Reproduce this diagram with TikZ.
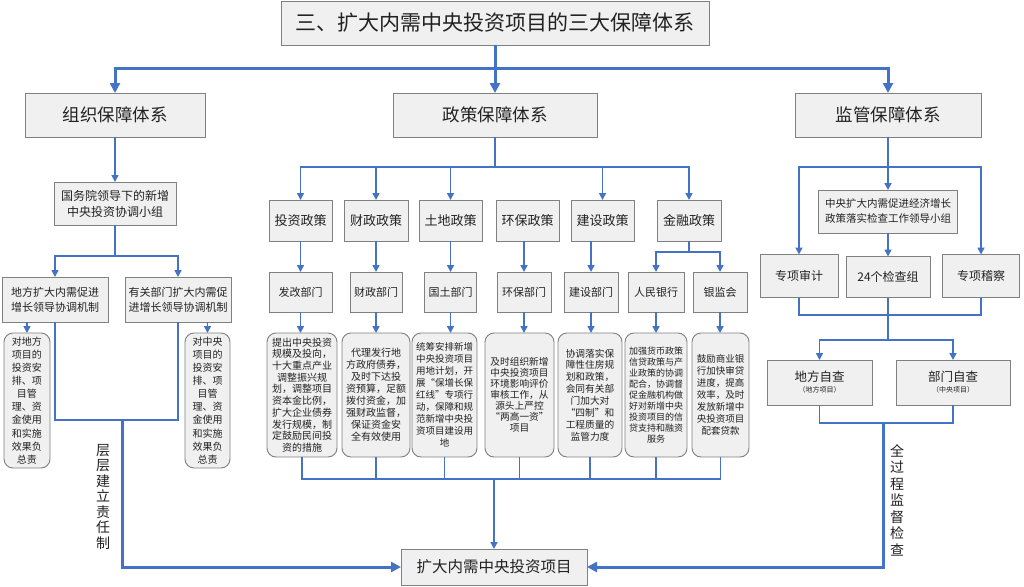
\documentclass[tikz,border=0pt]{standalone}
\usepackage{fontspec}
\setmainfont{Noto Sans CJK SC}
\usetikzlibrary{arrows.meta}
\definecolor{lnblue}{RGB}{68,114,196}
\definecolor{boxfill}{RGB}{240,240,240}
\definecolor{boxline}{RGB}{128,128,128}
\definecolor{txt}{RGB}{34,34,34}
\newcommand{\fs}[2]{\fontsize{#1}{#2}\selectfont}
\begin{document}
\begin{tikzpicture}[x=1pt,y=-1pt,
  box/.style={draw=boxline,fill=boxfill,line width=0.9pt,inner sep=0pt,outer sep=0pt,align=center,text=txt},
  rbox/.style={box,rounded corners=9pt},
  sz/.style 2 args={minimum width=#1pt,minimum height=#2pt},
  conn/.style={draw=lnblue,line width=1.6pt},
  bigc/.style={draw=lnblue,line width=3pt},
  arr/.style={-{Triangle[length=7pt,width=7pt]}},
  arrB/.style={-{Triangle[length=10pt,width=10pt]}},
  lab/.style={align=center,inner sep=0pt,text=txt,font=\fs{14}{15.5}}
]
\useasboundingbox (0,0) rectangle (1024,586);
\fill[white] (0,0) rectangle (1024,586);

% ---------- top level ----------
\node[box,sz={428}{44},font=\fs{21}{24}] (title) at (495,23) {三、扩大内需中央投资项目的三大保障体系};
\node[box,sz={180}{44},font=\fs{17.5}{20}] (org) at (115,115) {组织保障体系};
\node[box,sz={204}{44},font=\fs{17.5}{20}] (pol) at (495,115) {政策保障体系};
\node[box,sz={186}{44},font=\fs{17.5}{20}] (sup) at (888,115) {监管保障体系};

\coordinate (tb) at (495,68);
\draw[bigc] (title.south) -- (tb);
\draw[bigc,arrB] (tb) -| (org.north);
\draw[bigc,arrB] (tb) -- (pol.north);
\draw[bigc,arrB] (tb) -| (sup.north);

% ---------- left column ----------
\node[box,sz={122}{43},font=\fs{12}{16}] (gwy) at (115,203.5) {国务院领导下的新增\\中央投资协调小组};
\draw[conn,arr] (org.south) -- (gwy.north);
\node[box,sz={106}{45},font=\fs{11}{15}] (lm1) at (55,299.5) {地方扩大内需促进\\增长领导协调机制};
\node[box,sz={106}{45},font=\fs{11}{15}] (lm2) at (178,299.5) {有关部门扩大内需促\\进增长领导协调机制};
\coordinate (gb) at (115,256);
\draw[conn] (gwy.south) -- (gb);
\draw[conn,arr] (gb) -| (lm1.north);
\draw[conn,arr] (gb) -| (lm2.north);
\node[rbox,sz={46}{135},font=\fs{10}{13.1}] (s1) at (27,400.5) {对地方\\项目的\\投资安\\排、项\\目管\\理、资\\金使用\\和实施\\效果负\\总责};
\node[rbox,sz={45}{135},font=\fs{10}{13.1}] (s2) at (207.5,400.5) {对中央\\项目的\\投资安\\排、项\\目管\\理、资\\金使用\\和实施\\效果负\\总责};
\draw[conn,arr] (lm1.south -| s1.north) -- (s1.north);
\draw[conn,arr] (lm2.south -| s2.north) -- (s2.north);
\coordinate (lj) at (122,420);
\draw[conn] (lm1.south) |- (lj);
\draw[conn] (lm2.south) |- (lj);
\node[lab] (lab1) at (103,497) {层\\层\\建\\立\\责\\任\\制};

% ---------- middle column ----------
\coordinate (pb) at (495,167);
\draw[conn] (pol.south) -- (pb);
\node[box,sz={63}{41},font=\fs{13}{16}] (p1) at (300.5,220.5) {投资政策};
\node[box,sz={64}{41},font=\fs{13}{16}] (p2) at (376,220.5) {财政政策};
\node[box,sz={63}{41},font=\fs{13}{16}] (p3) at (450.5,220.5) {土地政策};
\node[box,sz={63}{41},font=\fs{13}{16}] (p4) at (527.5,220.5) {环保政策};
\node[box,sz={63}{41},font=\fs{13}{16}] (p5) at (602.5,220.5) {建设政策};
\node[box,sz={64}{41},font=\fs{13}{16}] (p6) at (689,220.5) {金融政策};
\draw[conn,arr] (pb) -| (p1.north);
\draw[conn,arr] (pb) -| (p2.north);
\draw[conn,arr] (pb) -| (p3.north);
\draw[conn,arr] (pb) -| (p5.north);
\draw[conn,arr] (pb) -| (p6.north);

\node[box,sz={63}{40},font=\fs{11}{14}] (d1) at (300.5,292) {发改部门};
\node[box,sz={52}{40},font=\fs{11}{14}] (d2) at (376,292) {财政部门};
\node[box,sz={52}{40},font=\fs{11}{14}] (d3) at (450.5,292) {国土部门};
\node[box,sz={54}{40},font=\fs{11}{14}] (d4) at (524,292) {环保部门};
\node[box,sz={54}{40},font=\fs{11}{14}] (d5) at (591,292) {建设部门};
\node[box,sz={56}{40},font=\fs{11}{14}] (d6) at (656,292) {人民银行};
\node[box,sz={54}{40},font=\fs{11}{14}] (d7) at (720,292) {银监会};
\draw[conn,arr] (p1.south) -- (p1.south |- d1.north);
\draw[conn,arr] (p2.south) -- (p2.south |- d2.north);
\draw[conn,arr] (p3.south) -- (p3.south |- d3.north);
\draw[conn,arr] (d4.north |- p4.south) -- (d4.north);
\draw[conn,arr] (d5.north |- p5.south) -- (d5.north);
\coordinate (fb) at (689,252);
\draw[conn] (p6.south) -- (fb);
\draw[conn,arr] (fb) -| (d6.north);
\draw[conn,arr] (fb) -| (d7.north);

\node[rbox,sz={70}{124},font=\fs{10}{11.7}] (t1) at (302,395) {提出中央投资\\规模及投向，\\十大重点产业\\调整振兴规\\划，调整项目\\资本金比例，\\扩大企业债券\\发行规模，制\\定鼓励民间投\\资的措施};
\node[rbox,sz={68}{124},font=\fs{10}{12}] (t2) at (376,395) {代理发行地\\方政府债券，\\及时下达投\\资预算，足额\\拨付资金，加\\强财政监督，\\保证资金安\\全有效使用};
\node[rbox,sz={65}{124},font=\fs{9.5}{12}] (t3) at (444.5,395) {统筹安排新增\\中央投资项目\\用地计划，开\\展“保增长保\\红线”专项行\\动，保障和规\\范新增中央投\\资项目建设用\\地};
\node[rbox,sz={69}{124},font=\fs{9.7}{11}] (t4) at (519.5,395) {及时组织新增\\中央投资项目\\环境影响评价\\审核工作，从\\源头上严控\\“两高一资”\\项目};
\node[rbox,sz={64}{124},font=\fs{9.7}{11.9}] (t5) at (590,395) {协调落实保\\障性住房规\\划和政策，\\会同有关部\\门加大对\\“四制”和\\工程质量的\\监管力度};
\node[rbox,sz={62}{124},font=\fs{9}{11}] (t6) at (656,395) {加强货币政策\\信贷政策与产\\业政策的协调\\配合，协调督\\促金融机构做\\好对新增中央\\投资项目的信\\贷支持和融资\\服务};
\node[rbox,sz={57}{124},font=\fs{9.5}{12}] (t7) at (720.5,395) {鼓励商业银\\行加快审贷\\进度，提高\\效率，及时\\发放新增中\\央投资项目\\配套贷款};
\foreach \i in {1,...,7}{
  \draw[conn,arr] (d\i.south) -- (d\i.south |- t\i.north);
}
\node[box,sz={186}{36},font=\fs{15.5}{18}] (final) at (494,567) {扩大内需中央投资项目};
\coordinate (mb) at (494,479);
\foreach \i in {1,...,7}{
  \draw[conn,line width=1.4pt] (t\i.south) |- (mb);
}
\draw[conn,arr] (mb) -- (final.north);

% ---------- right column ----------
\coordinate (rb) at (888,167);
\draw[conn] (sup.south) -- (rb);
\node[box,sz={139}{43},font=\fs{10.5}{15}] (L) at (888,211.5) {中央扩大内需促进经济增长\\政策落实检查工作领导小组};
\draw[conn,arr] (rb) -- (L.north);
\node[box,sz={78}{43},font=\fs{12}{15}] (a1) at (799,276) {专项审计};
\node[box,sz={84}{41},font=\fs{12}{15}] (a2) at (888,277) {24个检查组};
\node[box,sz={77}{43},font=\fs{12}{15}] (a3) at (981,276) {专项稽察};
\draw[conn,arr] (rb) -| (a1.north);
\draw[conn,arr] (rb) -| (a3.north);
\draw[conn,arr] (L.south) -- (a2.north);
\coordinate (aj) at (888,315);
\draw[conn] (a1.south) |- (aj);
\draw[conn] (a3.south) |- (aj);
\coordinate (sj) at (888,340);
\draw[conn] (a2.south) -- (sj);
\node[box,sz={105}{45}] (b1) at (819.5,382.5) {{\fs{12.5}{15}地方自查}\\[-1pt]{\fs{7}{9}（地方项目）}};
\node[box,sz={114}{45}] (b2) at (953,382.5) {{\fs{12.5}{15}部门自查}\\[-1pt]{\fs{7}{9}（中央项目）}};
\draw[conn,arr] (sj) -| (b1.north);
\draw[conn,arr] (sj) -| (b2.north);
\coordinate (rj) at (883,423);
\draw[conn] (b1.south) |- (rj);
\draw[conn] (b2.south) |- (rj);
\node[lab,font=\fs{14}{16.5}] (lab2) at (897,500) {全\\过\\程\\监\\督\\检\\查};

% ---------- thick paths to the final box ----------
\draw[bigc,arrB] (lj) |- (final.west);
\draw[bigc,arrB] (rj) |- (final.east);
\end{tikzpicture}
\end{document}
